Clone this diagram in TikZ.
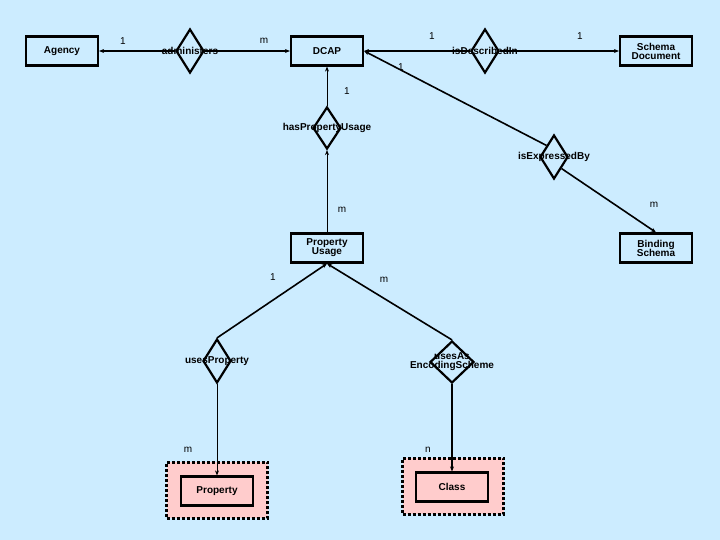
\documentclass[tikz,border=0pt]{standalone}
\usepackage{fontspec}
\setmainfont{Liberation Sans}
\usetikzlibrary{arrows.meta, positioning, shapes.geometric, backgrounds}
\definecolor{bgblue}{RGB}{204,236,255}
\definecolor{weakpink}{RGB}{255,204,204}
\tikzset{
  entity/.style={draw, line width=2.2pt, minimum width=72pt, minimum height=29pt, inner sep=0pt,
    font=\bfseries\fontsize{10}{11}\selectfont, align=center},
  rel/.style={draw, diamond, line width=2.2pt, fill=bgblue, minimum width=28pt, minimum height=44pt, inner sep=0pt},
  rellabel/.style={font=\bfseries\fontsize{10}{11}\selectfont, align=center},
  weak/.style={draw, line width=3pt, dash pattern=on 3pt off 2pt, fill=weakpink, minimum width=101pt, minimum height=56pt},
  card/.style={font=\fontsize{10}{11}\selectfont},
  link/.style={line width=1.6pt, -{Stealth[length=5pt,width=4pt]}},
  thin link/.style={line width=0.9pt, -{Stealth[length=5pt,width=4pt]}}
}
\begin{document}
\begin{tikzpicture}[x=1pt, y=-1pt]
    \fill[bgblue] (0,0) rectangle (720,540);
    \useasboundingbox (0,0) rectangle (720,540);

    % weak entity frames
    \node[weak] (propframe) at (217,490) {};
    \node[weak] (classframe) at (453,486) {};

    % Entities
    \node[entity] (agency) at (62,51) {Agency};
    \node[entity] (dcap) at (327,51) {DCAP};
    \node[entity] (schemadoc) at (656,51) {Schema\\[-2pt]Document};
    \node[entity] (propusage) at (327,248) {Property\\[-2pt]Usage};
    \node[entity] (binding) at (656,248) {Binding\\[-2pt]Schema};
    \node[entity, fill=weakpink] (property) at (217,491) {Property};
    \node[entity, fill=weakpink] (class) at (452,487) {Class};

    % Relationships
    \node[rel] (administers) at (190,51) {};
    \node[rel] (described) at (485,51) {};
    \node[rel, minimum height=42pt] (hasusage) at (327,128) {};
    \node[rel] (expressed) at (554,157) {};
    \node[rel] (usesprop) at (217,361) {};
    \node[rel, minimum width=44pt, minimum height=42pt] (usesas) at (452,362) {};

    % Connectors
    \draw[link] (administers.west) -- (agency.east);
    \draw[link] (administers.east) -- (dcap.west);
    \draw[link] (described.west) -- (dcap.east);
    \draw[link] (described.east) -- (schemadoc.west);
    \draw[link] (expressed.north west) -- (dcap.east);
    \draw[link] (expressed.south east) -- (binding.north);
    \draw[thin link] (hasusage.north) -- (dcap.south);
    \draw[thin link] (propusage.north) -- (hasusage.south);
    \draw[link] (usesprop.north) -- (propusage.south);
    \draw[link] (usesas.north) -- (propusage.south);
    \draw[thin link] (usesprop.south) -- (property.north);
    \draw[link] (usesas.south) -- (class.north);

    % Relationship names
    \node[rellabel] at (administers) {administers};
    \node[rellabel] at (described) {isDescribedIn};
    \node[rellabel] at (hasusage) {hasPropertyUsage};
    \node[rellabel] at (expressed) {isExpressedBy};
    \node[rellabel] at (usesprop) {usesProperty};
    \node[rellabel] at (usesas) {usesAs\\[-2pt]EncodingScheme};

    % Cardinalities
    \node[card] at (123,41) {1};
    \node[card] at (264,41) {m};
    \node[card] at (432,36) {1};
    \node[card] at (580,36) {1};
    \node[card] at (401,67) {1};
    \node[card] at (347,91) {1};
    \node[card] at (342,210) {m};
    \node[card] at (654,205) {m};
    \node[card] at (273,277) {1};
    \node[card] at (384,280) {m};
    \node[card] at (188,450) {m};
    \node[card] at (428,450) {n};
\end{tikzpicture}
\end{document}
